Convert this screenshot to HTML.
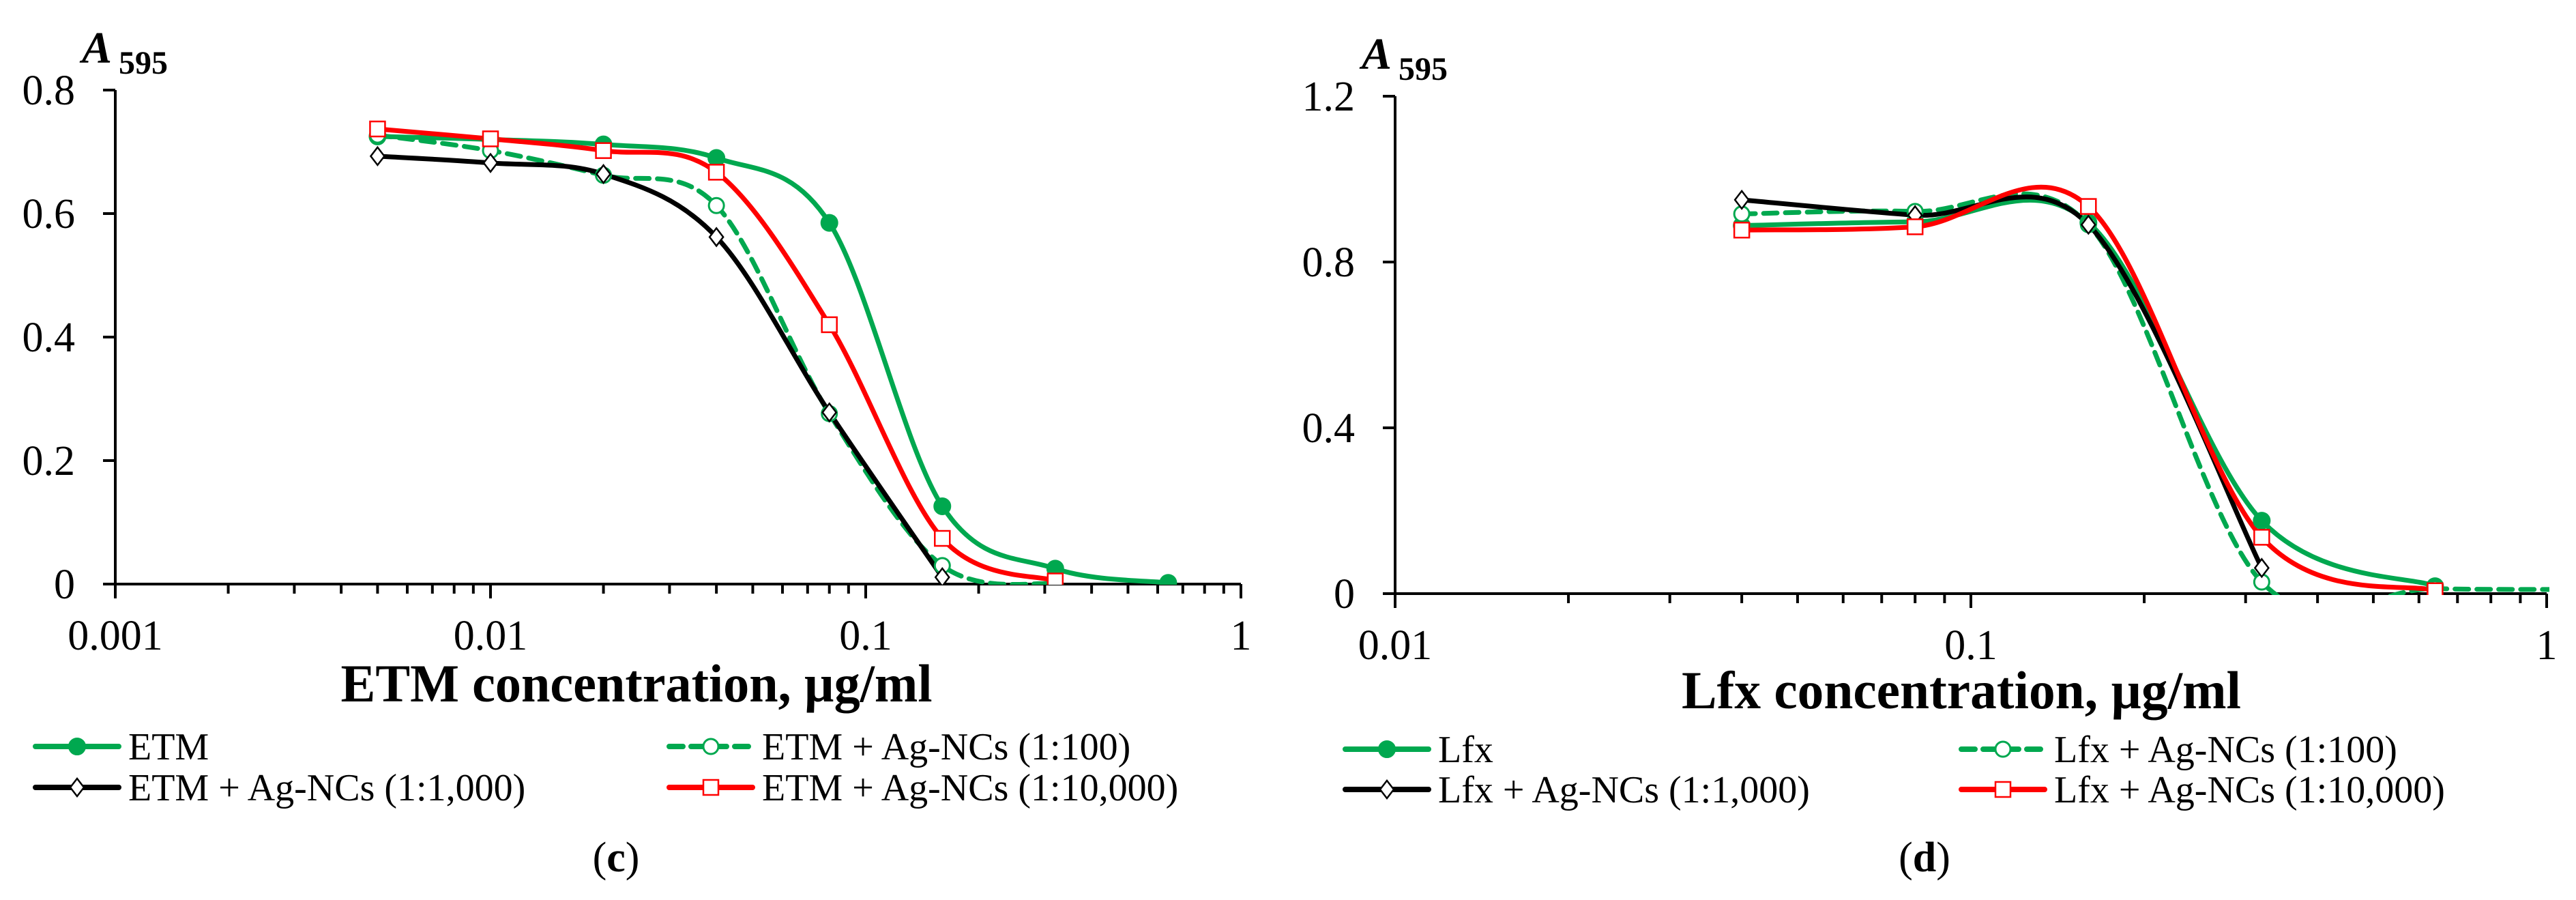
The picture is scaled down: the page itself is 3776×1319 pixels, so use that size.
<!DOCTYPE html>
<html><head><meta charset="utf-8"><style>
html,body{margin:0;padding:0;background:#fff;}
svg{display:block;}
text{font-family:"Liberation Serif",serif;fill:#000;}
</style></head><body>
<svg id="svg" width="3776" height="1319" viewBox="0 0 3776 1319" xmlns="http://www.w3.org/2000/svg">
<defs>
<clipPath id="clipL"><rect x="169" y="100" width="1652" height="757"/></clipPath>
<clipPath id="clipR"><rect x="2045" y="100" width="1692" height="772"/></clipPath>
</defs>
<g id="chartL"></g>
<g id="chartR"></g>
</svg>
<script>
// ---- Chart (c): ETM ----
const etmConc = [0.005, 0.01, 0.02, 0.04, 0.08, 0.16, 0.32, 0.64];
const etmVals = [0.725, 0.72, 0.712, 0.69, 0.585, 0.126, 0.025, 0.002];
const etm100Conc = [0.005, 0.01, 0.02, 0.04, 0.08, 0.16, 0.32];
const etm100Vals = [0.727, 0.702, 0.662, 0.613, 0.276, 0.03, 0.0];
const etm1000Conc = [0.005, 0.01, 0.02, 0.04, 0.08, 0.16];
const etm1000Vals = [0.693, 0.682, 0.664, 0.562, 0.278, 0.011];
const etm10000Conc = [0.005, 0.01, 0.02, 0.04, 0.08, 0.16, 0.32];
const etm10000Vals = [0.737, 0.721, 0.702, 0.667, 0.42, 0.074, 0.005];
const etmYTicks = [0, 0.2, 0.4, 0.6, 0.8];
const etmYTickLabels = ["0", "0.2", "0.4", "0.6", "0.8"];
const etmXTicks = [0.001, 0.01, 0.1, 1];
const etmXTickLabels = ["0.001", "0.01", "0.1", "1"];
// ---- Chart (d): Lfx ----
const lfxConc = [0.04, 0.08, 0.16, 0.32, 0.64];
const lfxVals = [0.888, 0.897, 0.895, 0.176, 0.018];
const lfx100Conc = [0.04, 0.08, 0.16, 0.32, 0.64, 1.28];
const lfx100Vals = [0.916, 0.922, 0.89, 0.028, 0.012, 0.01];
const lfx1000Conc = [0.04, 0.08, 0.16, 0.32];
const lfx1000Vals = [0.95, 0.913, 0.89, 0.062];
const lfx10000Conc = [0.04, 0.08, 0.16, 0.32, 0.64];
const lfx10000Vals = [0.877, 0.885, 0.934, 0.136, 0.007];
const lfxYTicks = [0, 0.4, 0.8, 1.2];
const lfxYTickLabels = ["0", "0.4", "0.8", "1.2"];
const lfxXTicks = [0.01, 0.1, 1];
const lfxXTickLabels = ["0.01", "0.1", "1"];

const NS = "http://www.w3.org/2000/svg";
function mk(parent, tag, attrs, txt) {
  const e = document.createElementNS(NS, tag);
  for (const k in attrs) e.setAttribute(k, attrs[k]);
  if (txt !== undefined) e.textContent = txt;
  parent.appendChild(e);
  return e;
}
const GREEN = "#00a84f", RED = "#ff0000", BLACK = "#000";

function smoothPath(pts) {
  let d = "M" + pts[0][0] + "," + pts[0][1];
  for (let i = 0; i < pts.length - 1; i++) {
    const p0 = pts[i - 1] || pts[i], p1 = pts[i], p2 = pts[i + 1], p3 = pts[i + 2] || pts[i + 1];
    const t = 1 / 6;
    const c1x = p1[0] + (p2[0] - p0[0]) * t, c1y = p1[1] + (p2[1] - p0[1]) * t;
    const c2x = p2[0] - (p3[0] - p1[0]) * t, c2y = p2[1] - (p3[1] - p1[1]) * t;
    d += " C" + c1x + "," + c1y + " " + c2x + "," + c2y + " " + p2[0] + "," + p2[1];
  }
  return d;
}

function marker(g, type, x, y, color) {
  let m;
  if (type === "dot") m = mk(g, "circle", {cx: x, cy: y, r: 12, fill: color, stroke: color, "stroke-width": 2});
  else if (type === "circle") m = mk(g, "circle", {cx: x, cy: y, r: 11, fill: "#fff", stroke: color, "stroke-width": 3});
  else if (type === "square") m = mk(g, "rect", {x: x - 11, y: y - 11, width: 22, height: 22, fill: "#fff", stroke: color, "stroke-width": 2.5});
  else m = mk(g, "polygon", {points: `${x},${y-13} ${x+10},${y} ${x},${y+13} ${x-10},${y}`, fill: "#fff", stroke: color, "stroke-width": 2.5});
  return m;
}

function drawChart(cfg) {
  const g = document.getElementById(cfg.id);
  const xs = v => cfg.x0 + (Math.log10(v) - Math.log10(cfg.xmin)) * cfg.dec;
  const ys = v => cfg.y0 - (v / cfg.ymax) * (cfg.y0 - cfg.ytop);
  const xEnd = xs(cfg.xmax);
  const ya = mk(g, "line", {x1: cfg.x0, y1: cfg.ytop, x2: cfg.x0, y2: cfg.y0, stroke: "#000", "stroke-width": 4});
  
  
  cfg.yTicks.forEach((v, i) => {
    const y = ys(v);
    const tk = mk(g, "line", {x1: cfg.x0 - 18, y1: y, x2: cfg.x0, y2: y, stroke: "#000", "stroke-width": 4});
    
    
    const t = mk(g, "text", {x: cfg.x0 - 59, y: y + 21, "font-size": 62, "text-anchor": "end"}, cfg.yLabels[i]);
    
    
  });
  const yt = mk(g, "text", {x: cfg.x0 - 49, y: cfg.ytop - 40, "font-size": 66, "font-weight": "bold", "font-style": "italic"}, "A");
  
  
  const sub = mk(g, "text", {x: cfg.x0 + 5, y: cfg.ytop - 24, "font-size": 48, "font-weight": "bold"}, "595");
  
  
  const xa = mk(g, "line", {x1: cfg.x0, y1: cfg.y0, x2: xEnd, y2: cfg.y0, stroke: "#000", "stroke-width": 4});
  
  
  for (let e = Math.log10(cfg.xmin); e < Math.log10(cfg.xmax); e++) {
    for (let k = 2; k <= 9; k++) {
      const x = xs(k * Math.pow(10, e));
      const tk = mk(g, "line", {x1: x, y1: cfg.y0, x2: x, y2: cfg.y0 + 14, stroke: "#000", "stroke-width": 4});
      
      
    }
  }
  cfg.xTicks.forEach((v, i) => {
    const x = xs(v);
    const tk = mk(g, "line", {x1: x, y1: cfg.y0, x2: x, y2: cfg.y0 + 21, stroke: "#000", "stroke-width": 4});
    
    
    const t = mk(g, "text", {x: x, y: cfg.y0 + 96, "font-size": 62, "text-anchor": "middle"}, cfg.xLabels[i]);
    
    
  });
  const xt = mk(g, "text", {x: cfg.titleX, y: cfg.titleY, "font-size": 78, "font-weight": "bold", "text-anchor": "middle", textLength: cfg.titleW, lengthAdjust: "spacingAndGlyphs"}, cfg.title);
  
  
  const sg = mk(g, "g", {"clip-path": "url(#" + cfg.clip + ")"});
  
  
  cfg.series.forEach(s => {
    const pts = s.xv.map((v, i) => [xs(v), ys(s.yv[i])]);
    const p = mk(sg, "path", {d: smoothPath(pts), fill: "none", stroke: s.color, "stroke-width": 7, "stroke-dasharray": s.dash ? "20 12" : "none", "stroke-linecap": "round"});
    
    
  });
  cfg.series.forEach(s => {
    s.xv.forEach((v, i) => {
      if (v > cfg.xmax) return;
      const m = marker(sg, s.mk, xs(v), ys(s.yv[i]), s.color);
      
      
    });
  });
  cfg.series.forEach((s, i) => {
    const lx = cfg.legX[s.col], ly = cfg.legY[s.row];
    const lg = mk(g, "g", {});
    
    
    mk(lg, "line", {x1: lx, y1: ly, x2: lx + 122, y2: ly, stroke: s.color, "stroke-width": 8, "stroke-linecap": "round", "stroke-dasharray": s.dash ? "20 12" : "none"});
    marker(lg, s.mk, lx + 61, ly, s.color);
    mk(lg, "text", {x: lx + 136, y: ly + 19, "font-size": 56}, s.label);
  });
  const cap = mk(g, "text", {x: cfg.capX, y: 1277, "font-size": 62, "text-anchor": "middle"});
  
  
  mk(cap, "tspan", {}, "(");
  mk(cap, "tspan", {"font-weight": "bold"}, cfg.capLetter);
  mk(cap, "tspan", {}, ")");
}

drawChart({
  id: "chartL", clip: "clipL", x0: 169, y0: 856, ytop: 132, ymax: 0.8,
  xmin: 0.001, xmax: 1, dec: 550,
  yTicks: etmYTicks, yLabels: etmYTickLabels, xTicks: etmXTicks, xLabels: etmXTickLabels,
  title: "ETM concentration, µg/ml", titleX: 933, titleY: 1028, titleW: 867,
  legX: [52, 981], legY: [1094, 1154], capX: 903, capLetter: "c",
  series: [
    {name: "etm", label: "ETM", xv: etmConc, yv: etmVals, color: GREEN, mk: "dot", col: 0, row: 0},
    {name: "etm-1-100", label: "ETM + Ag-NCs (1:100)", xv: etm100Conc, yv: etm100Vals, color: GREEN, mk: "circle", dash: true, col: 1, row: 0},
    {name: "etm-1-1000", label: "ETM + Ag-NCs (1:1,000)", xv: etm1000Conc, yv: etm1000Vals, color: BLACK, mk: "diamond", col: 0, row: 1},
    {name: "etm-1-10000", label: "ETM + Ag-NCs (1:10,000)", xv: etm10000Conc, yv: etm10000Vals, color: RED, mk: "square", col: 1, row: 1}
  ]
});
drawChart({
  id: "chartR", clip: "clipR", x0: 2045, y0: 870, ytop: 141, ymax: 1.2,
  xmin: 0.01, xmax: 1, dec: 844,
  yTicks: lfxYTicks, yLabels: lfxYTickLabels, xTicks: lfxXTicks, xLabels: lfxXTickLabels,
  title: "Lfx concentration, µg/ml", titleX: 2875, titleY: 1038, titleW: 820,
  legX: [1972, 2875], legY: [1098, 1157], capX: 2821, capLetter: "d",
  series: [
    {name: "lfx", label: "Lfx", xv: lfxConc, yv: lfxVals, color: GREEN, mk: "dot", col: 0, row: 0},
    {name: "lfx-1-100", label: "Lfx + Ag-NCs (1:100)", xv: lfx100Conc, yv: lfx100Vals, color: GREEN, mk: "circle", dash: true, col: 1, row: 0},
    {name: "lfx-1-1000", label: "Lfx + Ag-NCs (1:1,000)", xv: lfx1000Conc, yv: lfx1000Vals, color: BLACK, mk: "diamond", col: 0, row: 1},
    {name: "lfx-1-10000", label: "Lfx + Ag-NCs (1:10,000)", xv: lfx10000Conc, yv: lfx10000Vals, color: RED, mk: "square", col: 1, row: 1}
  ]
});
</script>
</body></html>
